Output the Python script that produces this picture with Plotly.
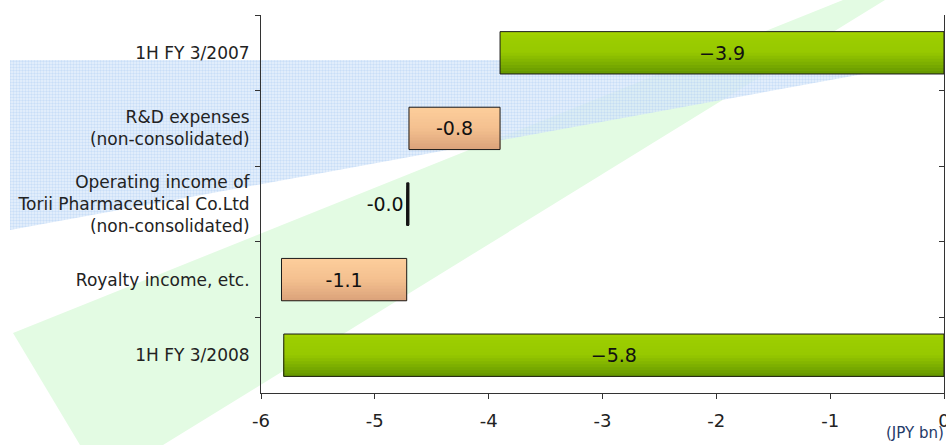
import plotly.graph_objects as go

# ---- data ----
categories = ["1H FY 3/2007",
              "R&D expenses<br>(non-consolidated)",
              "Operating income of<br>Torii Pharmaceutical Co.Ltd<br>(non-consolidated)",
              "Royalty income, etc.",
              "1H FY 3/2008"]
values = [-3.9, -0.8, -0.02, -1.1, -5.8]
kinds = ["total", "relative", "relative", "relative", "total"]
bar_labels = ["\u22123.9", "-0.8", "-0.0", "-1.1", "\u22125.8"]
x_tickvals = [-6, -5, -4, -3, -2, -1, 0]
x_ticktext = ["-6", "-5", "-4", "-3", "-2", "-1", "0"]

# decorative background polygons (screen pixel space)
green_poly_x = [13, 843, 885, 163, 80, 13]
green_poly_y = [333, 0, 0, 445, 445, 333]
blue_poly_x = [10, 940, 10, 10]
blue_poly_y = [60, 60, 230, 60]

W, H = 946, 445


def px_x(sx):
    return sx / W


def px_y(sy):
    return 1 - sy / H


# waterfall bases
bases = []
running = 0.0
for v, k in zip(values, kinds):
    if k == "total":
        bases.append(0.0)
        running = v
    else:
        bases.append(running)
        running += v

tiny = [abs(v) < 0.1 for v in values]
textpos = ["outside" if t else "inside" for t in tiny]

# gradient stops (top -> bottom)
grad = {
    "total": [(0.0, (166, 212, 0)), (0.12, (156, 206, 0)), (0.5, (150, 200, 0)), (1.0, (100, 150, 0))],
    "relative": [(0.0, (253, 206, 156)), (0.5, (244, 192, 143)), (1.0, (218, 162, 122))],
}


def color_at(kind, t):
    stops = grad[kind]
    for (t0, c0), (t1, c1) in zip(stops[:-1], stops[1:]):
        if t0 <= t <= t1:
            f = (t - t0) / (t1 - t0) if t1 > t0 else 0
            c = [round(a + (b - a) * f) for a, b in zip(c0, c1)]
            return "rgb(%d,%d,%d)" % tuple(c)
    c = stops[-1][1]
    return "rgb(%d,%d,%d)" % c


BW = 0.56
NB = 14

fig = go.Figure()

# background decorations on full-canvas axes
fig.add_trace(go.Scatter(x=green_poly_x, y=green_poly_y, mode="lines", fill="toself",
                         fillcolor="#e3fbe3", line=dict(width=0), hoverinfo="skip",
                         showlegend=False, xaxis="x", yaxis="y"))
fig.add_trace(go.Scatter(x=blue_poly_x, y=blue_poly_y, mode="lines", fill="toself",
                         fillcolor="rgba(210,228,250,0.75)", line=dict(width=0),
                         fillpattern=dict(shape=".", fgcolor="#a9c9f1", bgcolor="rgba(224,237,252,0.7)",
                                          size=3, solidity=0.5),
                         hoverinfo="skip", showlegend=False, xaxis="x", yaxis="y"))

# gradient bands: each band covers from its start to the bar bottom (no seams)
for i in range(NB):
    t = (i + 0.5) / NB
    start = -BW / 2 + i * BW / NB
    fig.add_trace(go.Bar(
        y=categories, x=values, base=bases, orientation="h",
        width=BW / 2 - start, offset=start,
        marker=dict(color=["#111111" if tn else color_at(k, t) for k, tn in zip(kinds, tiny)],
                    line=dict(width=0)),
        hoverinfo="skip", showlegend=False, xaxis="x2", yaxis="y2"))

# outline + labels
fig.add_trace(go.Bar(
    y=categories, x=values, base=bases, orientation="h",
    marker=dict(color="rgba(0,0,0,0)", line=dict(color="#1a1a1a", width=1)),
    width=BW,
    text=bar_labels, textposition=textpos, insidetextanchor="middle",
    textfont=dict(family="DejaVu Sans", size=19, color="#111111"),
    cliponaxis=False, hoverinfo="skip", showlegend=False,
    xaxis="x2", yaxis="y2"))

# invisible trace to carry right-hand axis
fig.add_trace(go.Scatter(y=categories, x=values, mode="markers", marker=dict(size=1, opacity=0),
                         hoverinfo="skip", showlegend=False, xaxis="x2", yaxis="y3"))

font = dict(family="DejaVu Sans", size=17, color="#222222")
tick_font = dict(family="DejaVu Sans", size=18, color="#222222")
dom_x = [px_x(261), px_x(944)]
dom_y = [px_y(393), px_y(15)]

fig.update_layout(
    width=W, height=H,
    margin=dict(l=0, r=0, t=0, b=0),
    paper_bgcolor="white", plot_bgcolor="rgba(0,0,0,0)",
    font=font, barmode="overlay",
    xaxis=dict(domain=[0, 1], range=[0, W], visible=False, fixedrange=True, automargin=False),
    yaxis=dict(domain=[0, 1], range=[H, 0], visible=False, fixedrange=True, automargin=False),
    xaxis2=dict(domain=dom_x, range=[-6, 0], anchor="y2", automargin=False,
                tickvals=x_tickvals, ticktext=x_ticktext, ticklabeloverflow="allow",
                showline=True, linecolor="#333333", linewidth=1,
                ticks="outside", ticklen=5, tickcolor="#333333", ticklabelstandoff=6,
                showgrid=False, zeroline=False, tickfont=tick_font, fixedrange=True),
    yaxis2=dict(domain=dom_y, anchor="x2", type="category", automargin=False,
                categoryorder="array", categoryarray=categories,
                range=[4.5, -0.5], tickson="boundaries", fixedrange=True,
                showline=True, linecolor="#333333", linewidth=1,
                ticks="outside", ticklen=5, tickcolor="#333333",
                showgrid=False, zeroline=False, tickfont=font, ticklabelstandoff=7),
    yaxis3=dict(domain=dom_y, anchor="x2", overlaying="y2", side="right", type="category",
                categoryorder="array", categoryarray=categories, automargin=False,
                range=[4.5, -0.5], tickson="boundaries", fixedrange=True,
                showline=True, linecolor="#333333", linewidth=1,
                ticks="inside", ticklen=5, tickcolor="#333333",
                showticklabels=False, showgrid=False, zeroline=False),
    annotations=[dict(text="(JPY bn)", xref="paper", yref="paper", x=px_x(946), y=px_y(433),
                      xanchor="right", yanchor="middle", showarrow=False,
                      font=dict(family="DejaVu Sans", size=15, color="#1f3a68"))],
)

fig.write_html("out.html", config={"displayModeBar": False, "staticPlot": True},
               post_script="document.body.style.margin='0';document.body.style.overflow='hidden';")
